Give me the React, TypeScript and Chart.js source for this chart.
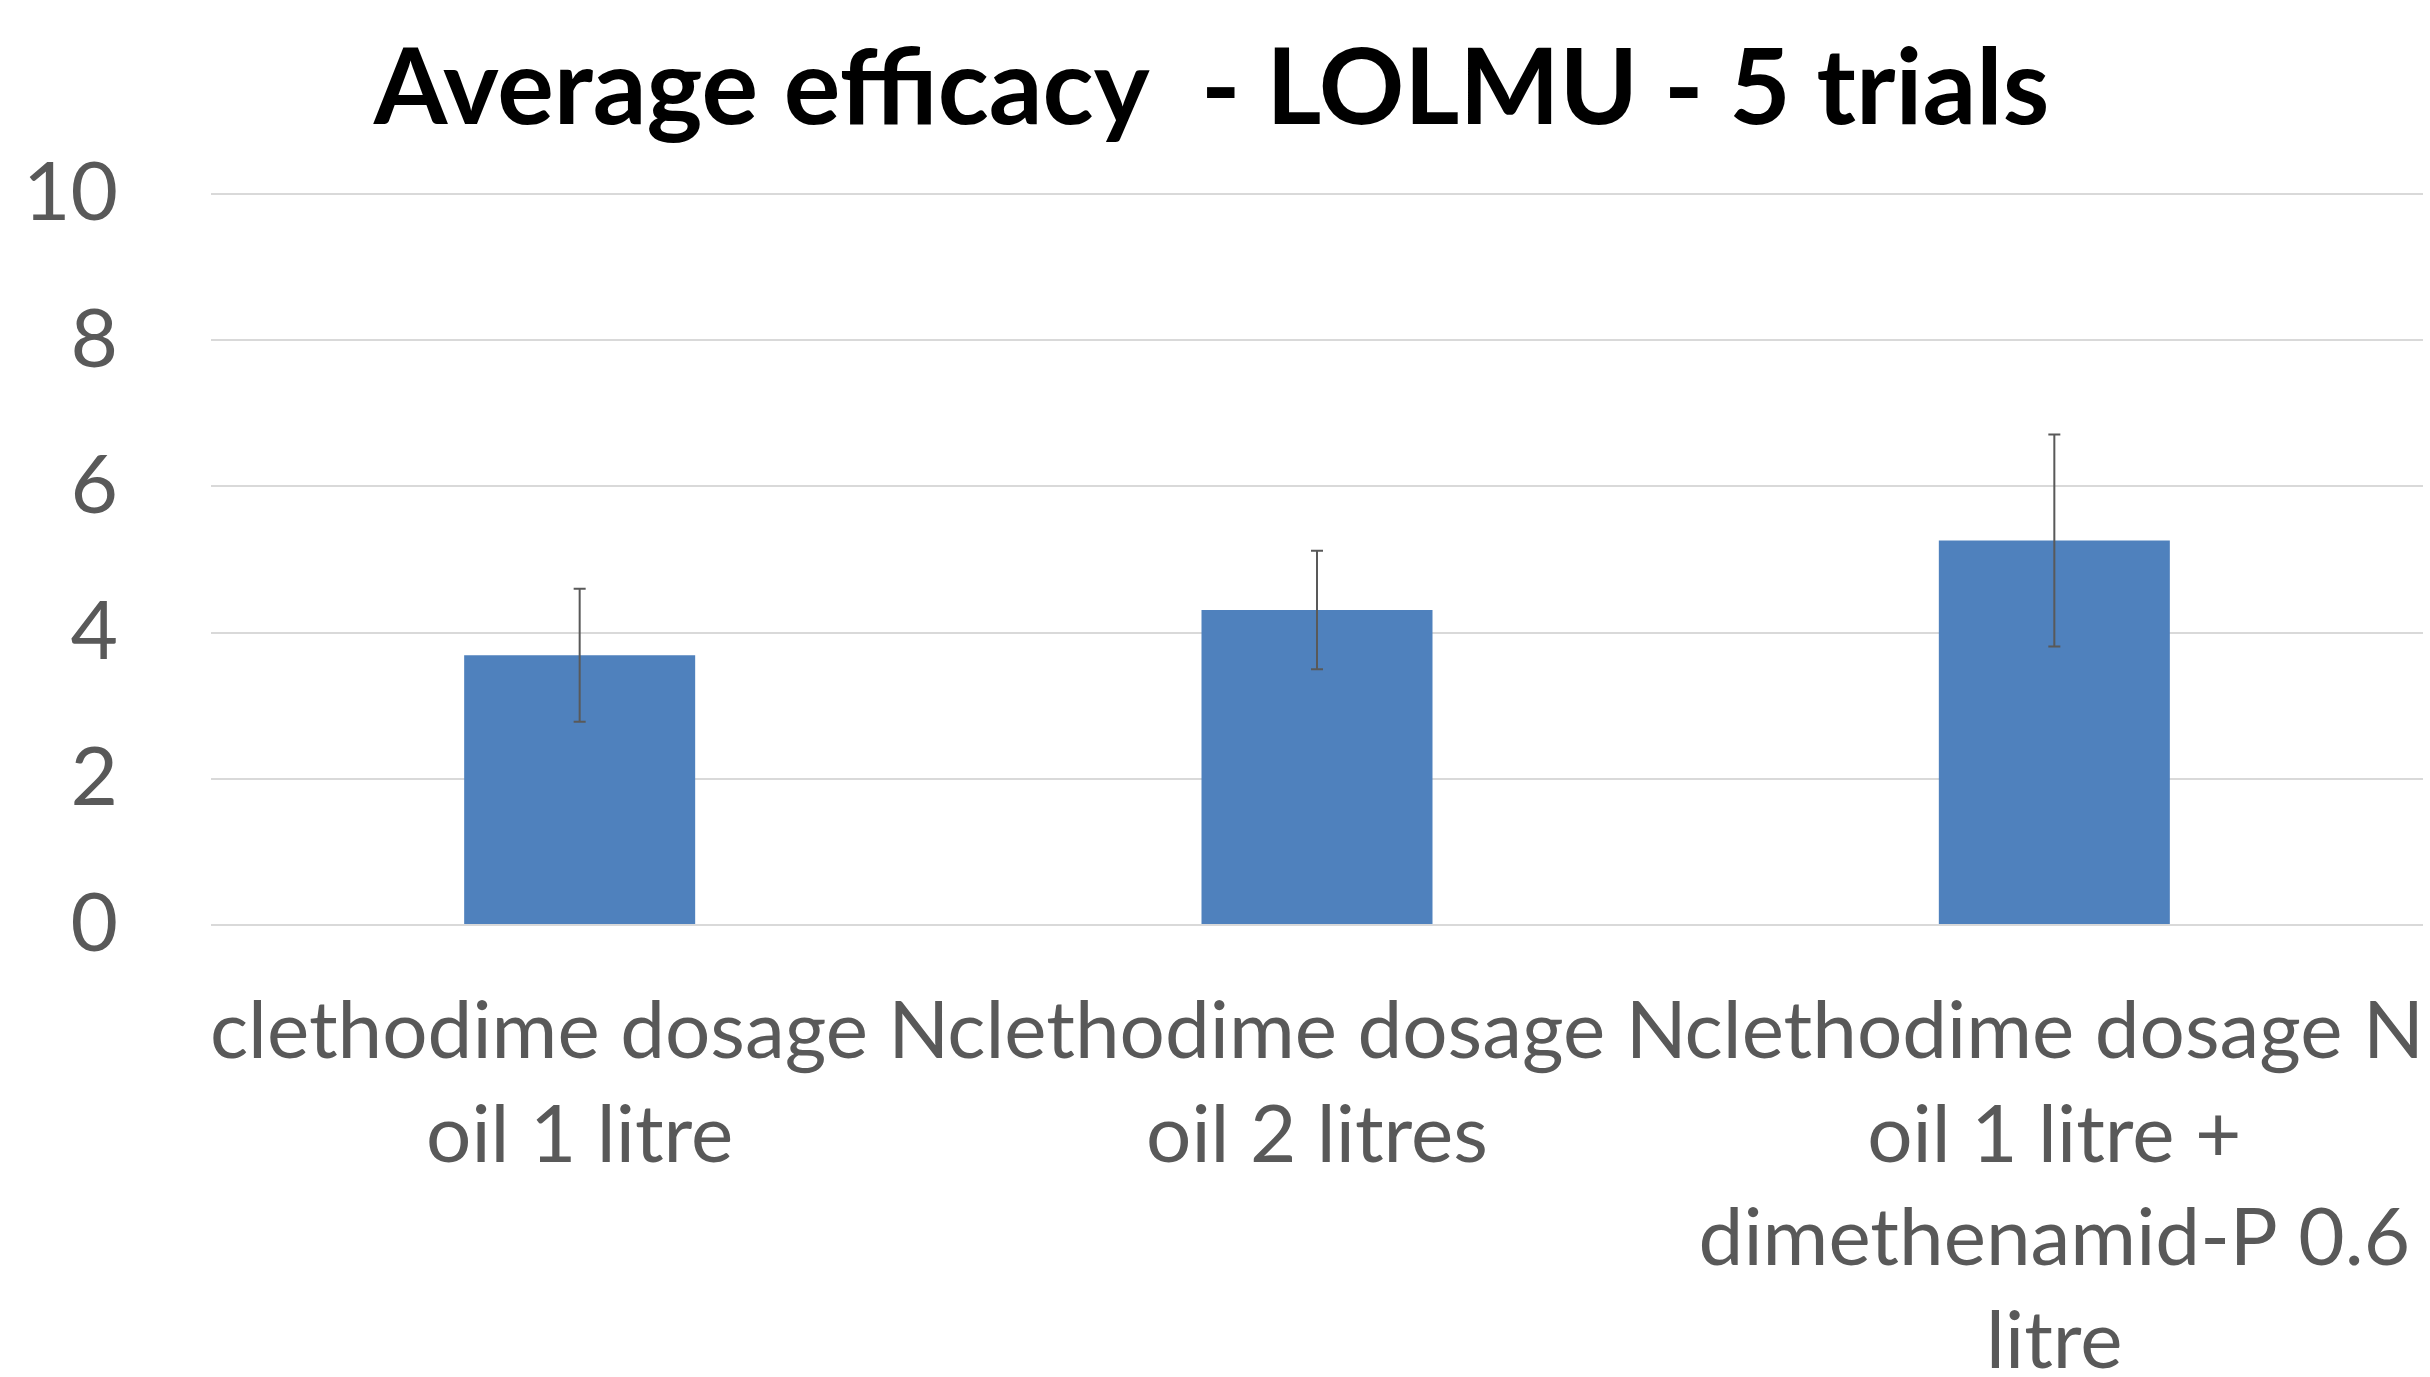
import React, { useEffect, useRef } from "react";
import { Chart, registerables } from "chart.js";

Chart.register(...registerables);

const titleText = "Average efficacy  - LOLMU - 5 trials";
const categories: string[][] = [
  ["clethodime dosage N", "oil 1 litre"],
  ["clethodime dosage N", "oil 2 litres"],
  ["clethodime dosage N", "oil 1 litre +", "dimethenamid-P 0.6", "litre"],
];
const efficacy: number[] = [3.69, 4.31, 5.26];
const errorMargins: number[] = [0.91, 0.81, 1.45];
const yTicks = { min: 0, max: 10, step: 2 };

const W = 2430;
const H = 1377;

const errorBarPlugin = {
  id: "errorBars",
  afterDatasetsDraw(chart: any) {
    const meta = chart.getDatasetMeta(0);
    const yScale = chart.scales.y;
    const ctx = chart.ctx;
    ctx.save();
    ctx.strokeStyle = "#595959";
    ctx.lineWidth = 2;
    meta.data.forEach((el: any, i: number) => {
      const x = el.x;
      const yTop = yScale.getPixelForValue(efficacy[i] + errorMargins[i]);
      const yBot = yScale.getPixelForValue(efficacy[i] - errorMargins[i]);
      const cap = 6;
      ctx.beginPath();
      ctx.moveTo(x, yTop);
      ctx.lineTo(x, yBot);
      ctx.moveTo(x - cap, yTop);
      ctx.lineTo(x + cap, yTop);
      ctx.moveTo(x - cap, yBot);
      ctx.lineTo(x + cap, yBot);
      ctx.stroke();
    });
    ctx.restore();
  },
};

export default function App() {
  const ref = useRef<HTMLCanvasElement | null>(null);
  useEffect(() => {
    document.body.style.margin = "0";
    const canvas = ref.current!;
    const chart = new Chart(canvas, {
      type: "bar",
      data: {
        labels: categories as any,
        datasets: [
          {
            data: efficacy,
            backgroundColor: "#4F81BD",
            borderWidth: 0,
            categoryPercentage: 1,
            barPercentage: 0.3133,
          },
        ],
      },
      options: {
        animation: false,
        responsive: false,
        devicePixelRatio: 1,
        layout: { padding: { left: 0, right: 7, top: 0, bottom: 0 } },
        plugins: {
          legend: { display: false },
          tooltip: { enabled: false },
          title: {
            display: true,
            text: titleText,
            color: "#000000",
            font: { family: "Lato", size: 106, weight: "bold", lineHeight: 1.2 },
            padding: { top: 26, bottom: 40.8 },
          },
        },
        scales: {
          x: {
            grid: {
              display: true,
              drawOnChartArea: false,
              drawTicks: true,
              tickLength: 56,
              color: "transparent",
            },
            border: { display: false },
            ticks: {
              color: "#595959",
              font: { family: "Lato", size: 80, lineHeight: 1.291 },
              padding: 0,
              autoSkip: false,
              maxRotation: 0,
              minRotation: 0,
            },
            afterFit: (scale: any) => {
              scale.height = H - 925;
            },
          },
          y: {
            min: yTicks.min,
            max: yTicks.max,
            grid: {
              color: "#D9D9D9",
              lineWidth: 2,
              drawTicks: false,
            },
            border: { display: false },
            ticks: {
              stepSize: yTicks.step,
              color: "#595959",
              font: { family: "Lato", size: 82 },
              padding: 93,
            },
            afterFit: (scale: any) => {
              scale.width = 211;
            },
          },
        },
      },
      plugins: [errorBarPlugin],
    });
    return () => chart.destroy();
  }, []);
  return (
    <canvas
      ref={ref}
      width={W}
      height={H}
      style={{ display: "block", width: W, height: H }}
    />
  );
}
